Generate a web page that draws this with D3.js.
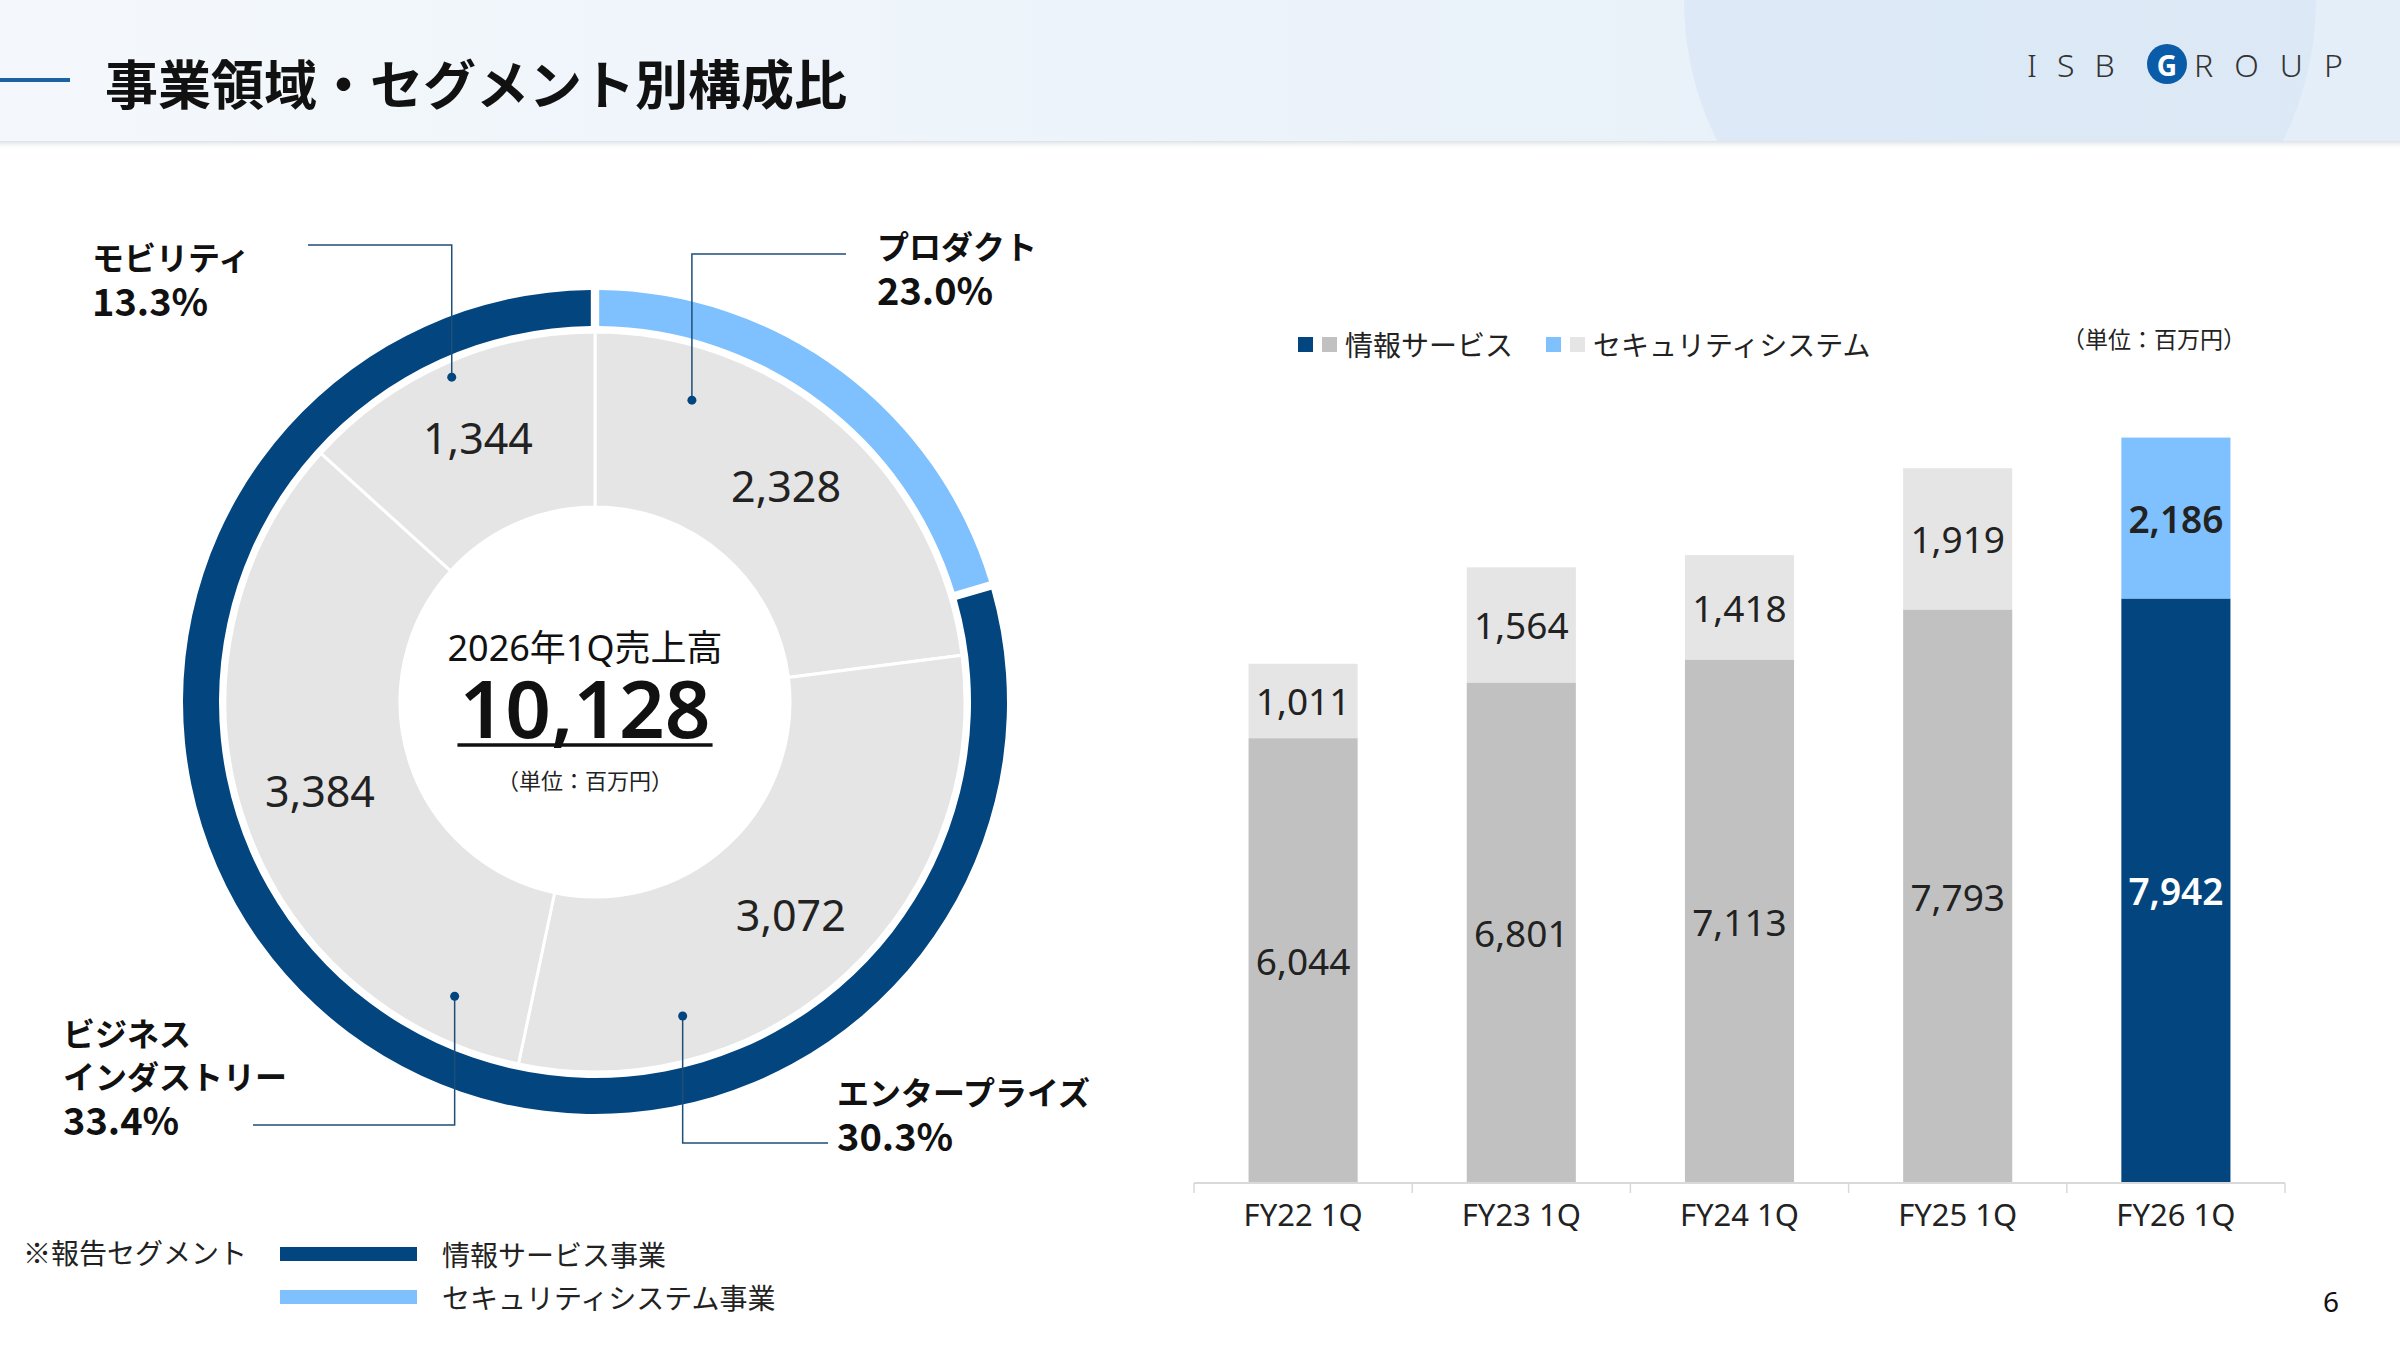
<!DOCTYPE html>
<html>
<head>
<meta charset="utf-8">
<title>事業領域・セグメント別構成比</title>
<style>
  body { margin: 0; background: #fff; }
  svg { display: block; font-family: "Noto Sans", "Noto Sans CJK JP", sans-serif; }
</style>
</head>
<body>
<div id="chart"></div>
<script src="https://cdn.jsdelivr.net/npm/d3@7/dist/d3.min.js"></script>
<script>
// donut: 2026 1Q sales by business area (million yen)
var segNames = [["プロダクト"], ["エンタープライズ"], ["ビジネス", "インダストリー"], ["モビリティ"]];
var segValues = [2328, 3072, 3384, 1344];
var segShares = ["23.0%", "30.3%", "33.4%", "13.3%"];
var totalTitle = "2026年1Q売上高";
var totalValue = 10128;

// outer ring: reporting segments, split as drawn in the slide (% of circle)
var ringKeys = ["sec", "info"];
var ringShares = [20.3, 79.7];

// bars: sales by reporting segment
var quarters = ["FY22 1Q", "FY23 1Q", "FY24 1Q", "FY25 1Q", "FY26 1Q"];
var infoService = [6044, 6801, 7113, 7793, 7942];
var securitySystem = [1011, 1564, 1418, 1919, 2186];

var navy = "#03467F", sky = "#7FC1FE", gray = "#C1C1C1", lightGray = "#E5E5E5";
var jp = "'Noto Sans CJK JP', sans-serif";
var fmt = d3.format(",");

var svg = d3.select("#chart").append("svg")
    .attr("width", 2400)
    .attr("height", 1350);

// ---- header ----
var defs = svg.append("defs");
var hg = defs.append("linearGradient").attr("id", "hdr");
hg.append("stop").attr("offset", "0%").attr("stop-color", "#F4F8FC");
hg.append("stop").attr("offset", "100%").attr("stop-color", "#E4EEF8");
var sg = defs.append("linearGradient").attr("id", "shadow").attr("x1", 0).attr("x2", 0).attr("y1", 0).attr("y2", 1);
sg.append("stop").attr("offset", "0%").attr("stop-color", "#DDE2E8");
sg.append("stop").attr("offset", "100%").attr("stop-color", "#FFFFFF").attr("stop-opacity", 0);
defs.append("clipPath").attr("id", "hclip")
  .append("rect").attr("width", 2400).attr("height", 141);

svg.append("rect").attr("width", 2400).attr("height", 141).attr("fill", "url(#hdr)");
svg.append("circle").attr("cx", 2000).attr("cy", 0).attr("r", 316)
    .attr("fill", "#D6E5F4").attr("opacity", 0.6).attr("clip-path", "url(#hclip)");
svg.append("rect").attr("y", 141).attr("width", 2400).attr("height", 9).attr("fill", "url(#shadow)");

svg.append("line").attr("x1", 0).attr("x2", 70).attr("y1", 80).attr("y2", 80)
    .attr("stroke", "#1B62A3").attr("stroke-width", 4);
svg.append("text").attr("x", 105).attr("y", 82)
    .attr("dominant-baseline", "central")
    .style("font-family", jp).attr("font-size", 53).attr("font-weight", 700).attr("fill", "#111")
    .text("事業領域・セグメント別構成比");

// logo
svg.append("text").attr("x", 2027).attr("y", 64).attr("dominant-baseline", "central")
    .attr("font-size", 32).attr("font-weight", 300).attr("letter-spacing", 20).attr("fill", "#333")
    .text("ISB");
svg.append("circle").attr("cx", 2167).attr("cy", 64).attr("r", 20).attr("fill", "#0B5CA8");
svg.append("text").attr("x", 2167).attr("y", 65).attr("text-anchor", "middle").attr("dominant-baseline", "central")
    .attr("font-size", 28).attr("font-weight", 700).attr("fill", "#fff").text("G");
svg.append("text").attr("x", 2194).attr("y", 64).attr("dominant-baseline", "central")
    .attr("font-size", 32).attr("font-weight", 300).attr("letter-spacing", 21).attr("fill", "#333")
    .text("ROUP");

// ---- donut ----
var cx = 595, cy = 702;
var donut = svg.append("g").attr("transform", "translate(" + cx + "," + cy + ")");
var pie = d3.pie().sort(null).value(function(d) { return d; })(segValues);

var arcGray = d3.arc().innerRadius(195).outerRadius(370);
donut.selectAll("path.seg")
  .data(pie)
  .enter().append("path")
    .attr("class", "seg")
    .attr("d", arcGray)
    .attr("fill", lightGray)
    .attr("stroke", "#fff")
    .attr("stroke-width", 3);

// outer ring = reporting segment
var ringPie = d3.pie().sort(null).padAngle(0.015).value(function(d) { return d; })(ringShares);
var arcRing = d3.arc().innerRadius(376).outerRadius(412);
donut.selectAll("path.ring")
  .data(ringPie)
  .enter().append("path")
    .attr("class", "ring")
    .attr("d", arcRing)
    .attr("fill", function(d, i) { return ringKeys[i] == "sec" ? sky : navy; });

var arcLabel = d3.arc().innerRadius(289).outerRadius(289);
donut.selectAll("text.val")
  .data(pie)
  .enter().append("text")
    .attr("class", "val")
    .attr("transform", function(d) { return "translate(" + arcLabel.centroid(d) + ")"; })
    .attr("text-anchor", "middle")
    .attr("dominant-baseline", "central")
    .attr("font-size", 43)
    .attr("fill", "#222")
    .text(function(d) { return fmt(d.data); });

// callouts (dot angle in degrees from 12 o'clock, radius, elbow line)
var callouts = [
  {angle: 17.8, r: 317, elbowY: 254, endX: 846, textX: 877, firstY: 245},
  {angle: 164.4, r: 326, elbowY: 1143, endX: 828, textX: 837, firstY: 1091},
  {angle: 205.5, r: 326, elbowY: 1125, endX: 253, textX: 63, firstY: 1032},
  {angle: 336.2, r: 355, elbowY: 245, endX: 308, textX: 92, firstY: 256}
];
callouts.forEach(function(c, i) {
  var a = c.angle * Math.PI / 180;
  var dx = cx + c.r * Math.sin(a), dy = cy - c.r * Math.cos(a);
  svg.append("polyline")
    .attr("points", [[dx, dy], [dx, c.elbowY], [c.endX, c.elbowY]].join(" "))
    .attr("fill", "none").attr("stroke", "#1F4E79").attr("stroke-width", 1.5);
  svg.append("circle").attr("cx", dx).attr("cy", dy).attr("r", 4.5).attr("fill", navy);
  var lines = segNames[i].concat([segShares[i]]);
  svg.append("g").selectAll("text")
    .data(lines)
    .enter().append("text")
      .attr("x", c.textX)
      .attr("y", function(d, j) { return c.firstY + j * 43; })
      .attr("dominant-baseline", "central")
      .style("font-family", jp)
      .attr("font-size", function(d, j) { return j == lines.length - 1 ? 38 : 32; })
      .attr("font-weight", 700).attr("fill", "#111")
      .text(function(d) { return d; });
});

// center text
var tx = cx - 10;
svg.append("text").attr("x", tx).attr("y", 647).attr("text-anchor", "middle").attr("dominant-baseline", "central")
    .attr("font-size", 36).attr("fill", "#111").text(totalTitle);
var big = svg.append("text").attr("x", tx).attr("y", 738).attr("text-anchor", "middle")
    .attr("font-size", 80).attr("font-weight", 600).attr("fill", "#111").text(fmt(totalValue));
var bb = big.node().getBBox();
svg.append("line").attr("x1", bb.x - 2).attr("x2", bb.x + bb.width + 2).attr("y1", 745).attr("y2", 745)
    .attr("stroke", "#111").attr("stroke-width", 3.5);
svg.append("text").attr("x", tx).attr("y", 779).attr("text-anchor", "middle").attr("dominant-baseline", "central")
    .style("font-family", jp).attr("font-size", 22).attr("fill", "#222").text("（単位：百万円）");

// ---- stacked bars ----
var rows = quarters.map(function(q, i) { return {q: q, info: infoService[i], sec: securitySystem[i]}; });
var stack = d3.stack().keys(["info", "sec"])(rows);

var x = d3.scaleBand().domain(quarters).range([1194, 2285]).paddingInner(0.5).paddingOuter(0.25);
var y = d3.scaleLinear().domain([0, 10000]).range([1183, 447]);
var last = quarters[quarters.length - 1];

function barColor(key, q) {
  if (q == last) return key == "info" ? navy : sky;
  return key == "info" ? gray : lightGray;
}

var layers = svg.append("g").selectAll("g")
  .data(stack)
  .enter().append("g");

layers.selectAll("rect")
  .data(function(s) { return s.map(function(d) { return {key: s.key, d: d}; }); })
  .enter().append("rect")
    .attr("x", function(e) { return x(e.d.data.q); })
    .attr("y", function(e) { return y(e.d[1]); })
    .attr("width", x.bandwidth())
    .attr("height", function(e) { return y(e.d[0]) - y(e.d[1]); })
    .attr("fill", function(e) { return barColor(e.key, e.d.data.q); });

layers.selectAll("text")
  .data(function(s) { return s.map(function(d) { return {key: s.key, d: d}; }); })
  .enter().append("text")
    .attr("x", function(e) { return x(e.d.data.q) + x.bandwidth() / 2; })
    .attr("y", function(e) { return (y(e.d[0]) + y(e.d[1])) / 2; })
    .attr("text-anchor", "middle")
    .attr("dominant-baseline", "central")
    .attr("font-size", 37)
    .attr("font-weight", function(e) { return e.d.data.q == last ? 600 : 400; })
    .attr("fill", function(e) { return e.d.data.q == last && e.key == "info" ? "#fff" : "#222"; })
    .text(function(e) { return fmt(e.d.data[e.key]); });

// axis
var xAxis = svg.append("g")
    .attr("transform", "translate(0,1183)")
    .call(d3.axisBottom(x).tickSize(0).tickPadding(21));
xAxis.select(".domain").remove();
xAxis.selectAll("text").attr("font-size", 31).attr("fill", "#222")
    .style("font-family", "'Noto Sans', sans-serif");
svg.append("line").attr("x1", x.range()[0]).attr("x2", x.range()[1]).attr("y1", 1183).attr("y2", 1183)
    .attr("stroke", "#D9D9D9").attr("stroke-width", 2);
svg.append("g").selectAll("line")
  .data(d3.range(quarters.length + 1))
  .enter().append("line")
    .attr("x1", function(i) { return x.range()[0] + i * x.step(); })
    .attr("x2", function(i) { return x.range()[0] + i * x.step(); })
    .attr("y1", 1183).attr("y2", 1193)
    .attr("stroke", "#D9D9D9").attr("stroke-width", 1.5);

// bar legend
var legend = [
  {cols: [navy, gray], name: "情報サービス", x: 1298},
  {cols: [sky, lightGray], name: "セキュリティシステム", x: 1546}
];
legend.forEach(function(l) {
  l.cols.forEach(function(c, j) {
    svg.append("rect").attr("x", l.x + j * 24).attr("y", 337).attr("width", 15).attr("height", 15).attr("fill", c);
  });
  svg.append("text").attr("x", l.x + 47).attr("y", 344).attr("dominant-baseline", "central")
      .style("font-family", jp).attr("font-size", 28).attr("fill", "#222").text(l.name);
});
svg.append("text").attr("x", 2246).attr("y", 338).attr("text-anchor", "end").attr("dominant-baseline", "central")
    .style("font-family", jp).attr("font-size", 23).attr("fill", "#222").text("（単位：百万円）");

// reporting segment legend
svg.append("text").attr("x", 23).attr("y", 1252).attr("dominant-baseline", "central")
    .style("font-family", jp).attr("font-size", 28).attr("fill", "#222").text("※報告セグメント");
[{c: navy, t: "情報サービス事業", y: 1254}, {c: sky, t: "セキュリティシステム事業", y: 1297}].forEach(function(l) {
  svg.append("rect").attr("x", 280).attr("y", l.y - 7).attr("width", 137).attr("height", 14).attr("fill", l.c);
  svg.append("text").attr("x", 442).attr("y", l.y).attr("dominant-baseline", "central")
      .style("font-family", jp).attr("font-size", 28).attr("fill", "#222").text(l.t);
});

// page number
svg.append("text").attr("x", 2331).attr("y", 1301).attr("text-anchor", "middle").attr("dominant-baseline", "central")
    .attr("font-size", 28).attr("fill", "#111").text("6");
</script>
</body>
</html>
